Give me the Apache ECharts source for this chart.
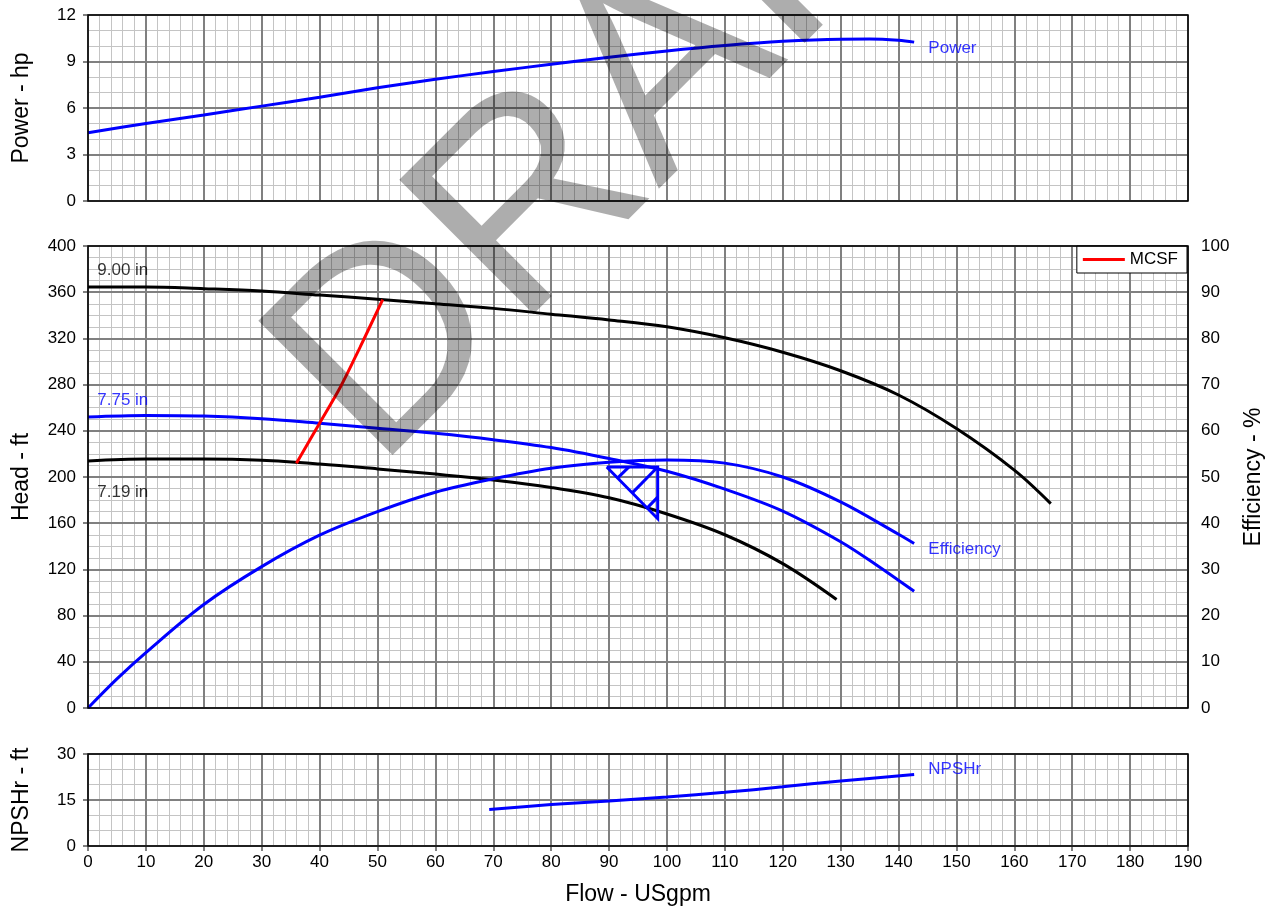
<!DOCTYPE html>
<html><head><meta charset="utf-8">
<script src="https://cdn.jsdelivr.net/npm/echarts@6/dist/echarts.min.js"></script>
<style>html,body{margin:0;padding:0;background:#fff}#c{width:1267px;height:909px}</style>
</head><body><div id="c"></div><script>
// ---------------- data ----------------
const powerFlow = [0,10,20,30,40,50,60,70,80,90,100,110,120,130,135,140,142.7];
const powerHp   = [4.4,5.0,5.55,6.12,6.7,7.3,7.85,8.35,8.82,9.27,9.68,10.03,10.3,10.44,10.45,10.37,10.25];

const flow900 = [0,10,20,30,40,50,60,70,80,90,100,110,120,130,140,150,160,166.3];
const head900 = [364.5,364.5,363,361,357.5,354,350,346,341,336,330,320.5,308,292,271,242,206,177];

const flow775 = [0,10,20,30,40,50,60,70,80,90,100,110,120,130,136,142.7];
const head775 = [252,253.3,252.8,250.5,246.5,242.3,237.8,232.3,225.5,216,205,189.5,170.5,144,124.5,101];

const flow719 = [0,10,20,30,40,50,60,70,80,90,100,110,120,129.3];
const head719 = [213.8,215.5,215.5,214.4,211.2,207,202.5,197.5,191,182,168,150,125,94];

const effFlow = [0,5,10,20,30,40,50,60,70,80,90,100,110,120,130,140,142.7];
const effPct  = [0,6.3,12,22.4,30.6,37.4,42.5,46.7,49.6,51.9,53.2,53.7,53.0,50.0,44.6,37.6,35.6];

const mcsfFlow = [36.0,40.1,43.6,47.0,50.9];
const mcsfHead = [211.9,247.5,277.9,312.5,353.6];

const npshFlow = [69.3,80,90,100,110,120,130,142.7];
const npshFt   = [11.9,13.5,14.7,16.0,17.5,19.3,21.2,23.3];

const bepTriangle = [[89.6,208.6],[98.4,208.6],[98.4,163.9],[89.6,208.6]];
const bepHatch = [
  [[93.4,208.6],[91.5,199.3]],
  [[98.4,208.6],[94.06,186.5]],
  [[98.4,182.6],[96.65,173.5]]
];

const flowRange = [0,190];
const powerRange = [0,12];
const headRange = [0,400];
const effRange = [0,100];
const npshRange = [0,30];

const curveLabels = [
  {name:'9.00 in',    x:1.6,   y:379,   panel:'head',  color:'#000000'},
  {name:'7.75 in',    x:1.6,   y:266.3, panel:'head',  color:'#0000ff'},
  {name:'7.19 in',    x:1.6,   y:186.7, panel:'head',  color:'#000000'},
  {name:'Efficiency', x:145.15,y:137.3, panel:'head',  color:'#0000ff'},
  {name:'Power',      x:145.15,y:9.82,  panel:'power', color:'#0000ff'},
  {name:'NPSHr',      x:145.15,y:25,    panel:'npsh',  color:'#0000ff'}
];

// ---------------- styling ----------------
const FONT = '"Liberation Sans", Arial, Helvetica, sans-serif';
const BLUE = '#0000ff', BLACK = '#000000', RED = '#ff0000';
const MAJOR = {show:true, lineStyle:{color:'#808080', width:2}};
const MINOR = {show:true, lineStyle:{color:'#c4c4c4', width:1}};
const TICK = {show:true, length:5, inside:false, lineStyle:{color:'#808080', width:2}};
const zip = (a,b) => a.map((v,i)=>[v,b[i]]);

function xMinor(grid, extra){
  return Object.assign({type:'value', gridIndex:grid, position:'bottom', min:flowRange[0], max:flowRange[1], interval:10,
    minorTick:{show:false, splitNumber:5}, minorSplitLine:MINOR, splitLine:{show:false},
    axisLine:{show:false}, axisTick:{show:false}, axisLabel:{show:false}, z:0}, extra||{});
}
function xMajor(grid){
  return {type:'value', gridIndex:grid, position:'top', min:flowRange[0], max:flowRange[1], interval:10,
    splitLine:MAJOR, axisLine:{show:false}, axisTick:{show:false}, axisLabel:{show:false}, z:1};
}
function yMinor(grid, range, interval, minorN, name, extra){
  return Object.assign({type:'value', gridIndex:grid, position:'left', min:range[0], max:range[1], interval:interval,
    minorTick:{show:false, splitNumber:minorN}, minorSplitLine:MINOR, splitLine:{show:false},
    axisLine:{show:false}, axisTick:TICK,
    axisLabel:{show:true, margin:12, color:BLACK, fontSize:17, fontFamily:FONT},
    name:name, nameLocation:'middle', nameRotate:90, nameGap:55,
    nameTextStyle:{color:BLACK, fontSize:23, fontFamily:FONT}, z:0}, extra||{});
}
function yMajor(grid, range, interval, extra){
  return Object.assign({type:'value', gridIndex:grid, position:'right', min:range[0], max:range[1], interval:interval,
    splitLine:MAJOR, axisLine:{show:false}, axisTick:{show:false}, axisLabel:{show:false}, z:1}, extra||{});
}

const gridBase = {left:88, right:79, show:true, backgroundColor:'transparent', borderColor:BLACK, borderWidth:1.5, z:10,
  containLabel:false, outerBoundsMode:'none'};

const series = [];
function line(name, x, y, xi, yi, color, extra){
  series.push(Object.assign({type:'line', name:name, xAxisIndex:xi, yAxisIndex:yi, data:zip(x,y),
    showSymbol:false, symbol:'none', smooth:0.35,
    lineStyle:{color:color, width:3}, itemStyle:{color:color}, silent:true, z:3}, extra||{}));
}
line('Power', powerFlow, powerHp, 0, 0, BLUE);
line('9.00 in', flow900, head900, 2, 2, BLACK);
line('7.75 in', flow775, head775, 2, 2, BLUE);
line('7.19 in', flow719, head719, 2, 2, BLACK);
line('Efficiency', effFlow, effPct, 2, 3, BLUE);
line('MCSF', mcsfFlow, mcsfHead, 2, 2, RED);
line('NPSHr', npshFlow, npshFt, 4, 4, BLUE);
series.push({type:'line', name:'BEP', xAxisIndex:2, yAxisIndex:2, data:bepTriangle, showSymbol:false, symbol:'none',
  lineStyle:{color:BLUE, width:3, join:'miter'}, silent:true, z:3});
bepHatch.forEach((seg,i)=>series.push({type:'line', name:'BEP'+i, xAxisIndex:2, yAxisIndex:2, data:seg,
  showSymbol:false, symbol:'none', lineStyle:{color:BLUE, width:3}, silent:true, z:3}));

const panelAxes = {power:[0,0], head:[2,2], npsh:[4,4]};
curveLabels.forEach(l=>{
  const ax = panelAxes[l.panel];
  series.push({type:'scatter', name:'lbl_'+l.name, xAxisIndex:ax[0], yAxisIndex:ax[1], symbolSize:1,
    itemStyle:{color:'rgba(0,0,0,0)'}, silent:true, z:4,
    data:[{value:[l.x,l.y], name:l.name}],
    label:{show:true, position:'inside', align:'left', verticalAlign:'middle', formatter:'{b}',
      color:l.color, fontSize:17, fontFamily:FONT}});
});

const option = {
  backgroundColor:'#ffffff',
  animation:false,
  textStyle:{fontFamily:FONT},
  grid:[
    Object.assign({top:15, height:186}, gridBase),
    Object.assign({top:246, height:462}, gridBase),
    Object.assign({top:754, height:92}, gridBase)
  ],
  xAxis:[
    xMinor(0), xMajor(0),
    xMinor(1), xMajor(1),
    xMinor(2, {axisTick:TICK, axisLabel:{show:true, margin:8, color:BLACK, fontSize:17, fontFamily:FONT},
      name:'Flow - USgpm', nameLocation:'middle', nameGap:37, nameTextStyle:{color:BLACK, fontSize:23, fontFamily:FONT}}),
    xMajor(2)
  ],
  yAxis:[
    yMinor(0, powerRange, 3, 3, 'Power - hp'),
    yMajor(0, powerRange, 3),
    yMinor(1, headRange, 40, 4, 'Head - ft'),
    yMajor(1, effRange, 10, {axisTick:TICK, axisLabel:{show:true, margin:13, color:BLACK, fontSize:17, fontFamily:FONT},
      name:'Efficiency - %', nameLocation:'middle', nameRotate:90, nameGap:54,
      nameTextStyle:{color:BLACK, fontSize:23, fontFamily:FONT}}),
    yMinor(2, npshRange, 15, 3, 'NPSHr - ft'),
    yMajor(2, npshRange, 15)
  ],
  legend:{data:[{name:'MCSF', icon:'rect'}], right:80, top:246, itemWidth:42, itemHeight:3, itemGap:5,
    padding:[5,9,5,6], borderColor:BLACK, borderWidth:1, backgroundColor:'#ffffff', borderRadius:0,
    selectedMode:false, textStyle:{color:BLACK, fontSize:17, fontFamily:FONT}},
  graphic:[{type:'text', x:648, y:92, rotation:Math.PI/4, z:100, silent:true,
    style:{text:'DRAFT', fontSize:276, fontFamily:FONT, fill:'rgba(0,0,0,0.32)', align:'center', verticalAlign:'middle'}}],
  series:series
};
const chart = echarts.init(document.getElementById('c'), null, {renderer:'canvas'});
chart.setOption(option);
</script></body></html>
